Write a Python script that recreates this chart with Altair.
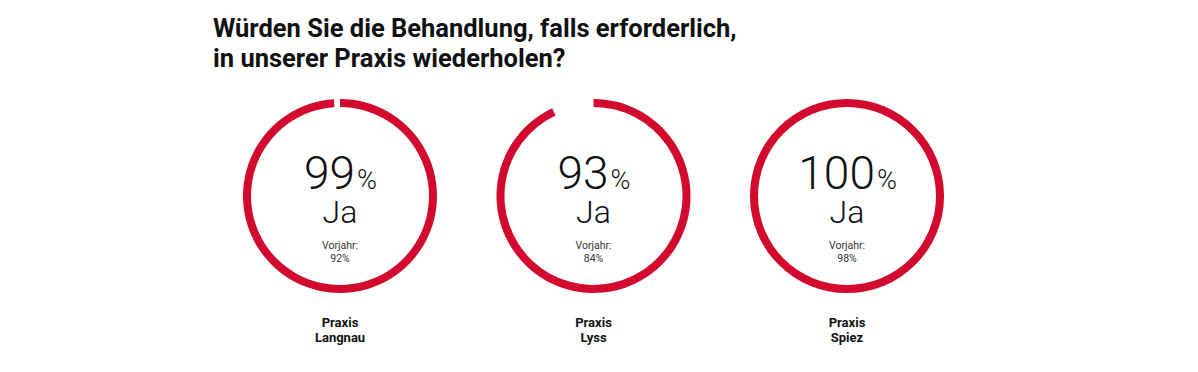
import altair as alt
import pandas as pd

# ---- data ----
praxen = ["Langnau", "Lyss", "Spiez"]
ja_werte = [99, 93, 100]
vorjahr_werte = [92, 84, 98]
title_lines = ["Würden Sie die Behandlung, falls erforderlich,", "in unserer Praxis wiederholen?"]

RED = "#D20A2E"
FONT = "Roboto"

df = pd.DataFrame({
    "praxis": praxen,
    "ja": ja_werte,
    "vorjahr": vorjahr_werte,
})
df["start"] = 0
df["vorjahr_label"] = ["Vorjahr:\n%d%%" % v for v in vorjahr_werte]
df["name_label"] = ["Praxis\n" + p for p in praxen]

W, H = 1170, 350
CY = 188

x_enc = alt.X("praxis:N", scale=alt.Scale(type="point", domain=praxen, range=[332, 839], padding=0), axis=None)

base = alt.Chart(df)

rings = base.mark_arc(innerRadius=89, outerRadius=97, color=RED).encode(
    x=x_enc,
    y=alt.value(CY),
    theta=alt.Theta("start:Q", scale=alt.Scale(domain=[0, 100], range=[0, 6.283185307])),
    theta2="ja:Q",
)

num_base = base.transform_calculate(
    off="(length(toString(datum.ja)) * 25.6 - 2 - 19) / 2",
    ja_text="toString(datum.ja)",
)

big_num = num_base.mark_text(
    font=FONT, fontSize=46, fontWeight=300, align="right", baseline="alphabetic", color="#111111"
).encode(
    x=x_enc,
    xOffset=alt.XOffset("off:Q", scale=None),
    y=alt.value(181),
    text="ja_text:N",
)

pct = num_base.mark_text(
    font=FONT, fontSize=27, fontWeight=300, align="left", baseline="alphabetic", color="#111111", dx=2
).encode(
    x=x_enc,
    xOffset=alt.XOffset("off:Q", scale=None),
    y=alt.value(181),
    text=alt.value("%"),
)

ja = base.mark_text(
    font=FONT, fontSize=32, fontWeight=300, align="center", baseline="alphabetic", color="#111111"
).encode(x=x_enc, y=alt.value(215), text=alt.value("Ja"))

vorjahr = base.mark_text(
    font=FONT, fontSize=10.5, align="center", baseline="alphabetic", color="#333333",
    lineBreak="\n", lineHeight=13,
).encode(x=x_enc, y=alt.value(241), text="vorjahr_label:N")

names = base.mark_text(
    font=FONT, fontSize=13, fontWeight="bold", align="center", baseline="alphabetic", color="#111111",
    lineBreak="\n", lineHeight=15,
).encode(x=x_enc, y=alt.value(319), text="name_label:N")

title_df = pd.DataFrame({"t": ["\n".join(title_lines)]})
title = alt.Chart(title_df).mark_text(
    font=FONT, fontSize=25.5, fontWeight="bold", align="left", baseline="alphabetic", color="#111111",
    lineBreak="\n", lineHeight=30,
).encode(x=alt.value(205), y=alt.value(29), text="t:N")

chart = alt.layer(rings, big_num, pct, ja, vorjahr, names, title).properties(
    width=W, height=H, autosize=alt.AutoSizeParams(type="none"), padding=0,
    view=alt.ViewBackground(strokeWidth=0, stroke="transparent"),
).configure_view(strokeWidth=0, stroke="transparent")

chart.save("out.html", embed_options={"renderer": "svg", "actions": False})
